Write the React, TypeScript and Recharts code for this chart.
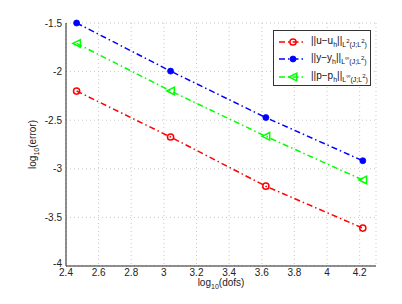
import React from 'react';
import { LineChart, Line, XAxis, YAxis, CartesianGrid, Legend } from 'recharts';

// log10 of degrees of freedom
const dofs = [2.465, 3.041, 3.625, 4.219];
// log10 of the three error norms
const errU = [-2.2, -2.673, -3.179, -3.61];
const errY = [-1.5, -1.995, -2.473, -2.917];
const errP = [-1.71, -2.199, -2.666, -3.115];

const xTicks = [2.4, 2.6, 2.8, 3, 3.2, 3.4, 3.6, 3.8, 4, 4.2];
const yTicks = [-4, -3.5, -3, -2.5, -2, -1.5];

const data = dofs.map((x, i) => ({ x, u: errU[i], y: errY[i], p: errP[i] }));

const FONT = '"Liberation Sans", Arial, Helvetica, sans-serif';
const DASH = '6 3 1.5 3';

const RedCircle = (props: any) => {
    const { cx, cy } = props;
    if (cx == null || cy == null) return null;
    return <circle cx={cx} cy={cy} r={3.1} fill="none" stroke="#ff0000" strokeWidth={1.5} />;
};

const BlueDot = (props: any) => {
    const { cx, cy } = props;
    if (cx == null || cy == null) return null;
    return <circle cx={cx} cy={cy} r={3} fill="#0000ff" stroke="#0000ff" strokeWidth={0.8} />;
};

const GreenTri = (props: any) => {
    const { cx, cy } = props;
    if (cx == null || cy == null) return null;
    const s = 3.8;
    return (
        <polygon
            points={`${cx - s},${cy} ${cx + s},${cy - s} ${cx + s},${cy + s}`}
            fill="none"
            stroke="#00ff00"
            strokeWidth={1.5}
        />
    );
};

const Sub = ({ children }: any) => (
    <span style={{ fontSize: 7, verticalAlign: -3 }}>{children}</span>
);
const Sup = ({ children }: any) => (
    <span style={{ fontSize: 6, verticalAlign: 4 }}>{children}</span>
);

const legendRows = [
    { color: '#ff0000', Marker: RedCircle, label: <>||u−u<Sub>h</Sub>||<Sub>L<Sup>2</Sup>(J;L<Sup>2</Sup>)</Sub></> },
    { color: '#0000ff', Marker: BlueDot, label: <>||y−y<Sub>h</Sub>||<Sub>L<Sup>∞</Sup>(J;L<Sup>2</Sup>)</Sub></> },
    { color: '#00ff00', Marker: GreenTri, label: <>||p−p<Sub>h</Sub>||<Sub>L<Sup>∞</Sup>(J;L<Sup>2</Sup>)</Sub></> },
];

const renderLegend = () => (
    <div
        style={{
            boxSizing: 'border-box',
            width: 98,
            height: 56,
            border: '1px solid #333',
            background: '#fff',
            padding: '2px 0 0 5px',
            fontFamily: FONT,
            fontSize: 10,
            color: '#111',
            lineHeight: 1,
            whiteSpace: 'nowrap',
        }}
    >
        {legendRows.map((r, i) => (
            <div key={i} style={{ display: 'flex', alignItems: 'center', height: 17.5 }}>
                <svg width={25} height={12} style={{ marginRight: 7, flex: 'none' }}>
                    <line x1={0} y1={6} x2={24} y2={6} stroke={r.color} strokeWidth={1.5} strokeDasharray={DASH} />
                    <r.Marker cx={14} cy={6} />
                </svg>
                <span>{r.label}</span>
            </div>
        ))}
    </div>
);

// y tick: the bottom one sits a little higher, as in the original
const YTick = (props: any) => {
    const { x, y, payload } = props;
    const lift = payload.value === -4 ? 3 : 0;
    return (
        <text x={x} y={y - lift} dy="0.355em" textAnchor="end" fontFamily={FONT} fontSize={10} fill="#222">
            {String(payload.value)}
        </text>
    );
};

const XLabel = (props: any) => {
    const { viewBox } = props;
    const cx = viewBox.x + viewBox.width / 2;
    return (
        <text x={cx} y={viewBox.y + 20} textAnchor="middle" fontFamily={FONT} fontSize={10} fill="#222">
            log<tspan fontSize={7} dy={3}>10</tspan><tspan dy={-3}>(dofs)</tspan>
        </text>
    );
};

const YLabel = (props: any) => {
    const { viewBox } = props;
    const cy = viewBox.y + viewBox.height / 2;
    const x = 36;
    return (
        <text
            x={x}
            y={cy}
            textAnchor="middle"
            fontFamily={FONT}
            fontSize={10}
            fill="#222"
            transform={`rotate(-90, ${x}, ${cy})`}
        >
            log<tspan fontSize={7} dy={3}>10</tspan><tspan dy={-3}>(error)</tspan>
        </text>
    );
};

export default function App() {
    return (
        <div style={{ position: 'absolute', left: 0, top: 0, width: 402, height: 304, background: '#fff' }}>
            <LineChart width={402} height={304} data={data} margin={{ top: 23, right: 26, left: 26, bottom: 0 }}>
                <CartesianGrid stroke="#c8c8c8" strokeDasharray="1 3" />
                <XAxis
                    type="number"
                    dataKey="x"
                    domain={[2.4, 4.3]}
                    ticks={xTicks}
                    tickLine={false}
                    tickSize={0}
                    tickMargin={3}
                    height={38}
                    stroke="#222"
                    tick={{ fontFamily: FONT, fontSize: 10, fill: '#222' }}
                    label={<XLabel />}
                />
                <YAxis
                    type="number"
                    domain={[-4, -1.5]}
                    ticks={yTicks}
                    tickLine={false}
                    tickSize={0}
                    tickMargin={4}
                    width={40}
                    stroke="#222"
                    tick={<YTick />}
                    label={<YLabel />}
                />
                <Legend
                    layout="vertical"
                    align="center"
                    verticalAlign="middle"
                    content={renderLegend}
                    wrapperStyle={{ position: 'absolute', left: 273, top: 30, width: 'auto' }}
                />
                <Line
                    dataKey="u"
                    stroke="#ff0000"
                    strokeWidth={1.5}
                    strokeDasharray={DASH}
                    dot={<RedCircle />}
                    isAnimationActive={false}
                />
                <Line
                    dataKey="y"
                    stroke="#0000ff"
                    strokeWidth={1.5}
                    strokeDasharray={DASH}
                    dot={<BlueDot />}
                    isAnimationActive={false}
                />
                <Line
                    dataKey="p"
                    stroke="#00ff00"
                    strokeWidth={1.5}
                    strokeDasharray={DASH}
                    dot={<GreenTri />}
                    isAnimationActive={false}
                />
            </LineChart>
        </div>
    );
}
